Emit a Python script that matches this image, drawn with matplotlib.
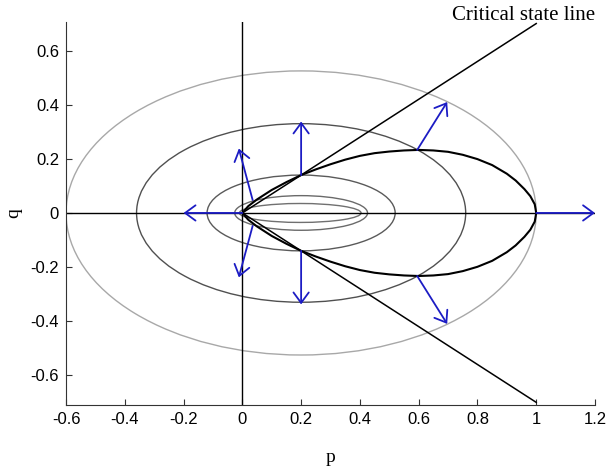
import numpy as np
import matplotlib
matplotlib.use("Agg")
import matplotlib.pyplot as plt
from matplotlib.patches import Ellipse

#%% data
# yield surfaces (ellipses): centre p, half width, half height, grey level
ell_center = [0.2, 0.2, 0.2, 0.2, 0.197]
ell_a = [0.8, 0.56, 0.32, 0.226, 0.207]
ell_b = [0.525, 0.33, 0.14, 0.064, 0.035]
ell_color = ['#a8a8a8', '#505050', '#5a5a5a', '#6a6a6a', '#707070']

# critical state lines, end points
csl_p = [0.0, 1.0]
csl_q = [0.0, 0.7]

# black yield curve (upper half, lower half is mirror)
curve_p = [0.0, 0.02, 0.05, 0.1, 0.15, 0.2, 0.25, 0.3, 0.35, 0.4, 0.45, 0.5,
           0.55, 0.6, 0.65, 0.7, 0.75, 0.8, 0.85, 0.9, 0.93, 0.96, 0.98,
           0.995, 1.0]
curve_q = [0.0, 0.025, 0.05, 0.085, 0.114, 0.14, 0.161, 0.18, 0.197, 0.211,
           0.221, 0.227, 0.231, 0.233, 0.231, 0.226, 0.215, 0.199, 0.177,
           0.145, 0.12, 0.088, 0.062, 0.032, 0.0]

# flow direction arrows: start (p, q) -> end (p, q)
arr_start = [(0.0, 0.0), (1.0, 0.0), (0.035, 0.048), (0.035, -0.048),
             (0.2, 0.14), (0.2, -0.14), (0.595, 0.233), (0.595, -0.233)]
arr_end = [(-0.2, 0.0), (1.2, 0.0), (-0.012, 0.238), (-0.012, -0.238),
           (0.2, 0.338), (0.2, -0.338), (0.697, 0.41), (0.697, -0.41)]

xticks = [-0.6, -0.4, -0.2, 0, 0.2, 0.4, 0.6, 0.8, 1, 1.2]
xlabels = ['-0.6', '-0.4', '-0.2', '0', '0.2', '0.4', '0.6', '0.8', '1', '1.2']
yticks = [-0.6, -0.4, -0.2, 0, 0.2, 0.4, 0.6]
ylabels = ['-0.6', '-0.4', '-0.2', '0', '0.2', '0.4', '0.6']

#%% plotting
fig = plt.figure(figsize=(6.08, 4.71), dpi=100)
ax = fig.add_axes([0.1086, 0.140, 0.870, 0.814])

for c, a, b, col in zip(ell_center, ell_a, ell_b, ell_color):
    ax.add_patch(Ellipse((c, 0), 2 * a, 2 * b, fill=False, ec=col, lw=1.0))

ax.axhline(0, color='k', lw=1.0)
ax.axvline(0, color='k', lw=1.0)

ax.plot(csl_p, csl_q, color='k', lw=1.1)
ax.plot(csl_p, [-v for v in csl_q], color='k', lw=1.1)

ax.plot(curve_p, curve_q, color='k', lw=1.5)
ax.plot(curve_p, [-v for v in curve_q], color='k', lw=1.5)

for s, e in zip(arr_start, arr_end):
    ax.annotate('', xy=e, xytext=s,
                arrowprops=dict(arrowstyle='->,head_length=0.75,head_width=0.55',
                                color='#1c1cc4', lw=1.3, shrinkA=0, shrinkB=0))

ax.text(0.712, 0.73, 'Critical state line', family='Liberation Serif',
        fontsize=15, va='center', ha='left', clip_on=False)

ax.set_xlim(-0.6, 1.2)
ax.set_ylim(-0.71, 0.707)
ax.set_xticks(xticks)
ax.set_xticklabels(xlabels, family='Liberation Sans', fontsize=12)
ax.set_yticks(yticks)
ax.set_yticklabels(ylabels, family='Liberation Sans', fontsize=12)
ax.tick_params(direction='in', length=4, color='#333333', pad=5)
ax.spines['top'].set_visible(False)
ax.spines['right'].set_visible(False)
ax.spines['left'].set_color('#333333')
ax.spines['bottom'].set_color('#333333')
ax.set_xlabel('p', family='Liberation Serif', fontsize=14, labelpad=16)
ax.set_ylabel('q', family='Liberation Serif', fontsize=14, labelpad=6)

fig.savefig('out.png', dpi=100)
